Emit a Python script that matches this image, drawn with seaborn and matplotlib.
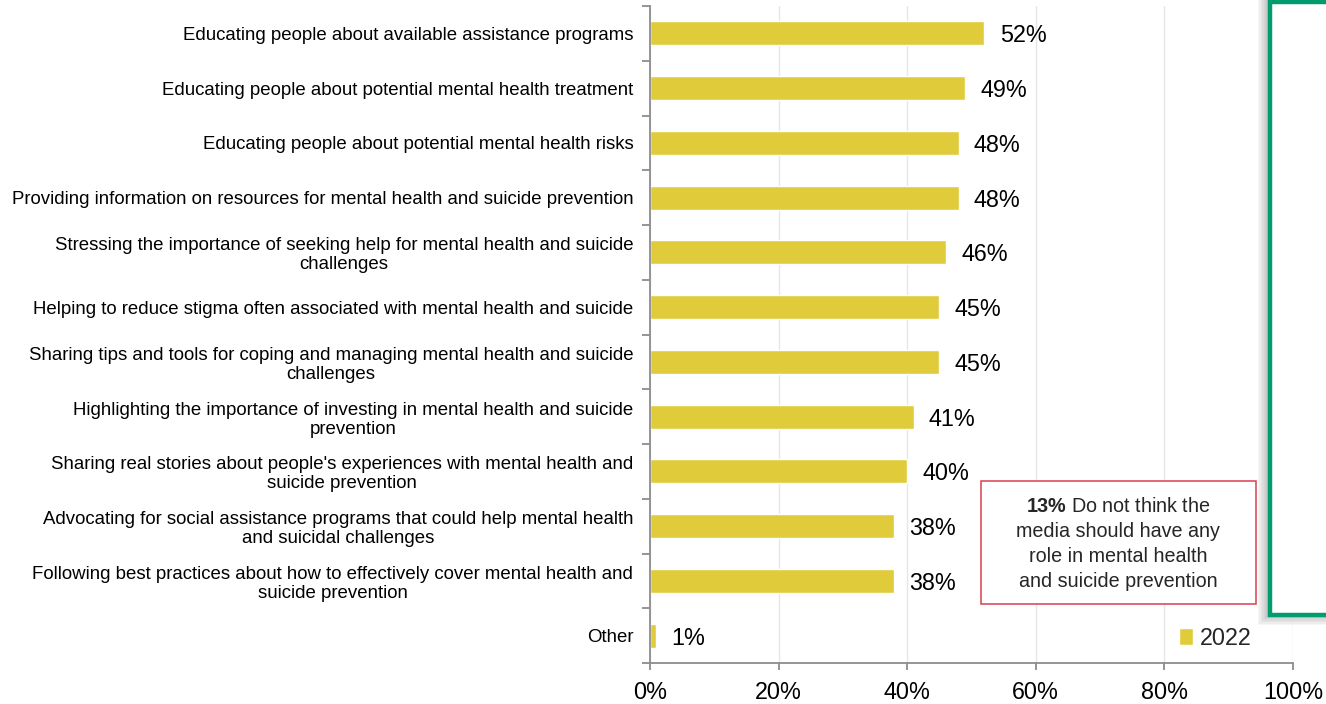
import matplotlib
matplotlib.use("Agg")
import matplotlib.pyplot as plt
import matplotlib.patches as mpatches
import seaborn as sns
import pandas as pd

# --- Data ---
categories = [
    "Educating people about available assistance programs",
    "Educating people about potential mental health treatment",
    "Educating people about potential mental health risks",
    "Providing information on resources for mental health and suicide prevention",
    "Stressing the importance of seeking help for mental health and suicide\nchallenges",
    "Helping to reduce stigma often associated with mental health and suicide",
    "Sharing tips and tools for coping and managing mental health and suicide\nchallenges",
    "Highlighting the importance of investing in mental health and suicide\nprevention",
    "Sharing real stories about people's experiences with mental health and\nsuicide prevention",
    "Advocating for social assistance programs that could help mental health\nand suicidal challenges",
    "Following best practices about how to effectively cover mental health and\nsuicide prevention",
    "Other",
]
values_2022 = [52, 49, 48, 48, 46, 45, 45, 41, 40, 38, 38, 1]
series_name = "2022"
x_ticks = [0, 20, 40, 60, 80, 100]
x_tick_labels = ["0%", "20%", "40%", "60%", "80%", "100%"]
callout_text = "$\\bf{13\\%}$ Do not think the\nmedia should have any\nrole in mental health\nand suicide prevention"

df = pd.DataFrame({"category": categories, "value": values_2022})

# --- Style ---
sns.set_style("white")
plt.rcParams["font.family"] = ["Liberation Sans", "DejaVu Sans"]
plt.rcParams["mathtext.fontset"] = "custom"
plt.rcParams["mathtext.rm"] = "Liberation Sans"
plt.rcParams["mathtext.bf"] = "Liberation Sans:bold"

BAR = "#E0CC3A"
SPINE = "#8C8C8C"
W, H = 1326, 704

fig = plt.figure(figsize=(W / 100, H / 100), dpi=100)
ax = fig.add_axes([650 / W, 1 - 663 / H, 643 / W, 657 / H])

sns.barplot(data=df, x="value", y="category", color=BAR, width=0.44,
            saturation=1, label=series_name, ax=ax, zorder=2)

ax.set_xlim(0, 100)
ax.set_ylim(len(categories) - 0.5, -0.5)
ax.set_xlabel("")
ax.set_ylabel("")

# value labels
vlabels = ax.bar_label(ax.containers[0], labels=[f"{v}%" for v in values_2022],
                       padding=11, fontsize=16.8, color="black")
for t in vlabels:
    t.set_verticalalignment("center_baseline")

# grid and spines
ax.grid(axis="x", color="#E6E6E6", linewidth=1.0, zorder=0)
ax.set_axisbelow(True)
for s in ["top", "right"]:
    ax.spines[s].set_visible(False)
for s in ["left", "bottom"]:
    ax.spines[s].set_color(SPINE)
    ax.spines[s].set_linewidth(1.3)

ax.set_xticks(x_ticks)
ax.set_xticklabels(x_tick_labels)
ax.tick_params(axis="x", length=5, width=1.3, color=SPINE, pad=8,
               labelsize=16.8, labelcolor="black", bottom=True)

ax.set_yticks(range(len(categories)))
ax.set_yticklabels(categories, multialignment="center", linespacing=1.15)
ax.tick_params(axis="y", which="major", length=0, pad=12,
               labelsize=13.4, labelcolor="black")
ax.set_yticks([i - 0.5 for i in range(len(categories) + 1)], minor=True)
ax.tick_params(axis="y", which="minor", length=6, width=1.3, color=SPINE, left=True)

# legend
ax.legend(loc="center left", bbox_to_anchor=(0.823, 0.038), frameon=False,
          fontsize=16.8, handlelength=0.6, handleheight=0.8,
          handletextpad=0.3, borderpad=0, borderaxespad=0)

# callout box (red)
def fx(px):
    return px / W

def fy(py):
    return 1 - py / H

red = mpatches.Rectangle((fx(981), fy(604)), fx(1256) - fx(981), fy(481) - fy(604),
                         transform=fig.transFigure, facecolor="white",
                         edgecolor="#D8404E", linewidth=1.1, zorder=5)
fig.patches.append(red)
fig.text(fx(1118), fy(544), callout_text, ha="center", va="center",
         fontsize=14.2, linespacing=1.38, zorder=6)

# green panel with soft shadow (cut off at right edge)
for i in range(7):
    off = 10 - i * 1.4
    sh = mpatches.Rectangle((fx(1268 - off), fy(615 + off)), fx(200), fy(0) - fy(615 + off) + 0.05,
                            transform=fig.transFigure, facecolor="#505050",
                            edgecolor="none", alpha=0.05, zorder=6)
    fig.patches.append(sh)
green = mpatches.Rectangle((fx(1270), fy(615)), fx(200), fy(2) - fy(615),
                           transform=fig.transFigure, facecolor="white",
                           edgecolor="#009C6E", linewidth=3.2, zorder=7)
fig.patches.append(green)

plt.savefig("out.png", dpi=100)
